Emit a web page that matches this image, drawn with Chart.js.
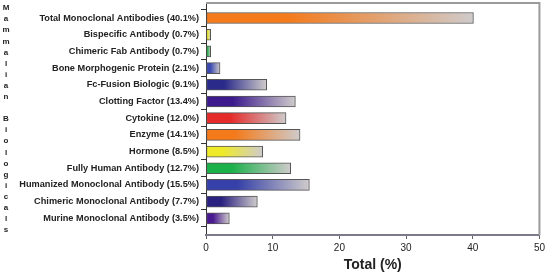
<!DOCTYPE html>
<html>
<head>
<meta charset="utf-8">
<script src="https://cdn.jsdelivr.net/npm/chart.js@4/dist/chart.umd.min.js"></script>
<style>
  body { margin: 0; background: #fff; }
  #wrap { width: 548px; height: 276px; }
</style>
</head>
<body>
<div id="wrap"><canvas id="c" width="548" height="276"></canvas></div>
<script>
// categories (top to bottom) and their share of the total
const names = [
  'Total Monoclonal Antibodies', 'Bispecific Antibody', 'Chimeric Fab Antibody',
  'Bone Morphogenic Protein', 'Fc-Fusion Biologic', 'Clotting Factor', 'Cytokine',
  'Enzyme', 'Hormone', 'Fully Human Antibody', 'Humanized Monoclonal Antibody',
  'Chimeric Monoclonal Antibody', 'Murine Monoclonal Antibody'
];
const totals = [40.1, 0.7, 0.7, 2.1, 9.1, 13.4, 12.0, 14.1, 8.5, 12.7, 15.5, 7.7, 3.5];
const xTicks = [0, 10, 20, 30, 40, 50];
const sideLabel = 'Mammalian Biologicals';

// start colour of each bar's gradient (fades to grey at the bar end)
const barColors = [
  '#f47a1a', '#f0ee22', '#22b24a', '#3a48b0', '#2a2a8a', '#3c1a8c', '#e52a2a',
  '#f47a1a', '#eeea2a', '#1ab04a', '#3540a8', '#2a2080', '#4a1a90'
];

const labels = names.map((n, i) => n + ' (' + totals[i].toFixed(1) + '%)');

// grey frame on top and right of the plot
const framePlugin = {
  id: 'frame',
  beforeDatasetsDraw(chart) {
    const { ctx, chartArea: a } = chart;
    ctx.save();
    ctx.strokeStyle = '#9a9a9a';
    ctx.lineWidth = 2;
    ctx.beginPath();
    ctx.moveTo(a.left, a.top);
    ctx.lineTo(a.right, a.top);
    ctx.lineTo(a.right, a.bottom);
    ctx.stroke();
    ctx.restore();
  }
};

// the stacked letters down the left edge
const sidePlugin = {
  id: 'sideLabel',
  afterDraw(chart) {
    const ctx = chart.ctx;
    ctx.save();
    ctx.font = 'bold 8px "Liberation Sans", Arial, sans-serif';
    ctx.fillStyle = '#222';
    ctx.textAlign = 'center';
    ctx.textBaseline = 'middle';
    sideLabel.split('').forEach((ch, i) => {
      ctx.fillText(ch, 6, 8 + i * 11.1);
    });
    ctx.restore();
  }
};

function barFill(context) {
  const chart = context.chart;
  const i = context.dataIndex;
  if (!chart.chartArea) return barColors[i];
  const xs = chart.scales.x;
  const x0 = xs.getPixelForValue(0);
  const x1 = xs.getPixelForValue(totals[i]);
  const g = chart.ctx.createLinearGradient(x0, 0, Math.max(x1, x0 + 1), 0);
  g.addColorStop(0, barColors[i]);
  g.addColorStop(0.3, barColors[i]);
  g.addColorStop(1, '#cfcbcb');
  return g;
}

new Chart(document.getElementById('c'), {
  type: 'bar',
  data: {
    datasets: [{
      data: totals.map((v, i) => ({ x: v, y: i })),
      backgroundColor: barFill,
      borderColor: '#555',
      borderWidth: 1,
      borderSkipped: false,
      barThickness: 11
    }]
  },
  options: {
    indexAxis: 'y',
    responsive: false,
    animation: false,
    layout: { padding: { top: 3, right: 8, left: 0, bottom: 0 } },
    plugins: { legend: { display: false }, tooltip: { enabled: false } },
    scales: {
      y: {
        type: 'linear',
        reverse: true,
        offset: false,
        min: -0.9,
        max: 13,
        afterBuildTicks: s => { s.ticks = names.map((_, i) => ({ value: i })); },
        afterFit: s => { s.width = 206; s.paddingTop = 0; s.paddingBottom = 0; },
        ticks: {
          autoSkip: false,
          padding: 2,
          color: '#222',
          font: { family: '"Liberation Sans", Arial, sans-serif', size: 9.2, weight: 'bold' },
          callback: v => labels[v]
        },
        grid: { drawOnChartArea: false, tickLength: 5, color: '#333' },
        border: { color: '#333', width: 1 }
      },
      x: {
        type: 'linear',
        min: 0,
        max: 50,
        afterBuildTicks: s => { s.ticks = xTicks.map(v => ({ value: v })); },
        afterFit: s => { s.height = 41; },
        ticks: {
          padding: 3,
          color: '#222',
          font: { family: '"Liberation Sans", Arial, sans-serif', size: 10 }
        },
        grid: { drawOnChartArea: false, tickLength: 4, color: '#666' },
        border: { color: '#7a7a8a', width: 2 },
        title: {
          display: true,
          text: 'Total (%)',
          color: '#222',
          padding: { top: 0, bottom: 2 },
          font: { family: '"Liberation Sans", Arial, sans-serif', size: 14, weight: 'bold' }
        }
      }
    }
  },
  plugins: [framePlugin, sidePlugin]
});
</script>
</body>
</html>
